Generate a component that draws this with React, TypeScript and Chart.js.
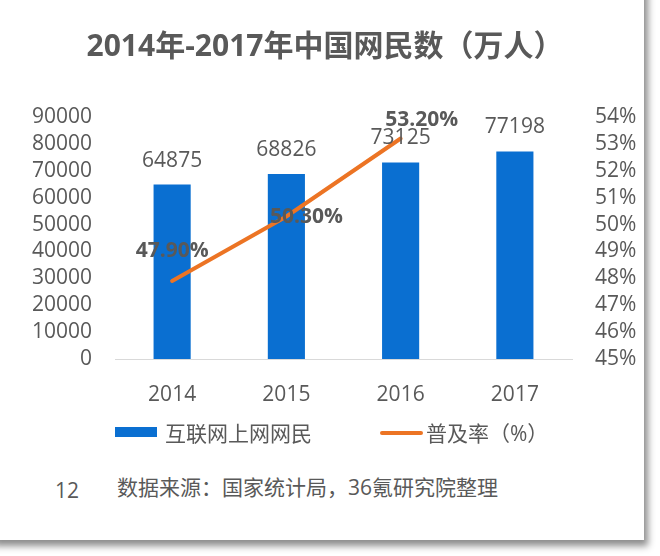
import React, { useEffect, useRef } from "react";
import { Chart, registerables } from "chart.js";

Chart.register(...registerables);

const FONT = "'Open Sans', 'Noto Sans CJK SC', sans-serif";
const TEXT = "#595959";

const TITLE = "2014年-2017年中国网民数（万人）";
const YEARS = ["2014", "2015", "2016", "2017"];
const USERS = [64875, 68826, 73125, 77198];
const RATE: (number | null)[] = [47.9, 50.3, 53.2, null];
const USERS_LABEL = "互联网上网网民";
const RATE_LABEL = "普及率（%）";
const LEFT_MIN = 0;
const LEFT_MAX = 90000;
const LEFT_STEP = 10000;
const RIGHT_MIN = 45;
const RIGHT_MAX = 54;
const RIGHT_STEP = 1;
const PAGE_NO = "12";
const SOURCE = "数据来源：国家统计局，36氪研究院整理";

const BAR_COLOR = "#0a6fd1";
const LINE_COLOR = "#ec7424";

// label offsets for the rate labels (as placed in the original)
const RATE_LABEL_OFFSET: [number, number][] = [
  [0, -30],
  [20, 1],
  [21, -18],
];

const labelPlugin = {
  id: "valueLabels",
  afterDatasetsDraw(chart: any) {
    const ctx = chart.ctx;
    ctx.save();
    ctx.fillStyle = TEXT;
    ctx.textAlign = "center";
    ctx.textBaseline = "middle";
    ctx.font = `21px ${FONT}`;
    const barMeta = chart.getDatasetMeta(0);
    barMeta.data.forEach((el: any, i: number) => {
      ctx.fillText(String(USERS[i]), el.x, el.y - 24);
    });
    ctx.font = `bold 21px ${FONT}`;
    const lineMeta = chart.getDatasetMeta(1);
    lineMeta.data.forEach((el: any, i: number) => {
      const v = RATE[i];
      if (v == null) return;
      const [dx, dy] = RATE_LABEL_OFFSET[i] || [0, -20];
      ctx.fillText(v.toFixed(2) + "%", el.x + dx, el.y + dy);
    });
    ctx.restore();
  },
};

export default function App() {
  const ref = useRef<HTMLCanvasElement | null>(null);

  useEffect(() => {
    if (!ref.current) return;
    Chart.defaults.font.family = FONT;
    const chart = new Chart(ref.current, {
      type: "bar",
      data: {
        labels: YEARS,
        datasets: [
          {
            type: "bar",
            label: USERS_LABEL,
            data: USERS,
            backgroundColor: BAR_COLOR,
            borderWidth: 0,
            barPercentage: 0.325,
            categoryPercentage: 1,
            yAxisID: "y",
            order: 2,
          } as any,
          {
            type: "line",
            label: RATE_LABEL,
            data: RATE,
            borderColor: LINE_COLOR,
            backgroundColor: LINE_COLOR,
            borderWidth: 4,
            borderCapStyle: "round",
            pointRadius: 0,
            tension: 0,
            yAxisID: "y1",
            order: 1,
          } as any,
        ],
      },
      options: {
        animation: false,
        responsive: true,
        maintainAspectRatio: false,
        layout: { padding: { left: 6, right: 0, top: 0, bottom: 0 } },
        plugins: {
          legend: { display: false },
          tooltip: { enabled: false },
          title: {
            display: true,
            text: TITLE,
            color: TEXT,
            font: { size: 30, weight: "bold", family: FONT, lineHeight: 1.2 },
            padding: { top: 29, bottom: 52 },
          },
        },
        scales: {
          x: {
            grid: { display: false },
            border: { display: true, color: "#d9d9d9", width: 1 },
            ticks: { color: TEXT, font: { size: 21 }, padding: 15 },
            afterFit: (s: any) => {
              s.height = 61;
            },
          },
          y: {
            position: "left",
            min: LEFT_MIN,
            max: LEFT_MAX,
            grid: { display: false },
            border: { display: false },
            ticks: {
              stepSize: LEFT_STEP,
              autoSkip: false,
              color: TEXT,
              font: { size: 21, lineHeight: 1 },
              padding: 15,
              callback: (v: any) => String(v),
            },
            afterFit: (s: any) => {
              s.width = 109;
            },
          },
          y1: {
            position: "right",
            min: RIGHT_MIN,
            max: RIGHT_MAX,
            grid: { display: false },
            border: { display: false },
            ticks: {
              stepSize: RIGHT_STEP,
              autoSkip: false,
              color: TEXT,
              font: { size: 21, lineHeight: 1 },
              padding: 15,
              callback: (v: any) => `${v}%`,
            },
            afterFit: (s: any) => {
              s.width = 72;
            },
          },
        },
      } as any,
      plugins: [labelPlugin],
    });
    return () => chart.destroy();
  }, []);

  const text = (extra: React.CSSProperties): React.CSSProperties => ({
    position: "absolute",
    fontFamily: FONT,
    color: TEXT,
    fontSize: 21,
    lineHeight: "24px",
    whiteSpace: "nowrap",
    ...extra,
  });

  return (
    <div
      style={{
        position: "fixed",
        left: 0,
        top: 0,
        width: 660,
        height: 556,
        background: "#fff",
        overflow: "hidden",
      }}
    >
      <div
        style={{
          position: "absolute",
          left: -10,
          top: -20,
          width: 654,
          height: 560,
          background: "#fff",
          boxShadow: "4px 6px 7px rgba(0,0,0,0.45)",
        }}
      />
      <div style={{ position: "absolute", left: 0, top: 0, width: 644, height: 420 }}>
        <canvas ref={ref} />
      </div>
      <div
        style={{
          position: "absolute",
          left: 115,
          top: 427,
          width: 42,
          height: 10,
          background: BAR_COLOR,
        }}
      />
      <div style={text({ left: 165, top: 421 })}>{USERS_LABEL}</div>
      <div
        style={{
          position: "absolute",
          left: 380,
          top: 431,
          width: 43,
          height: 4,
          borderRadius: 2,
          background: LINE_COLOR,
        }}
      />
      <div style={text({ left: 426, top: 421 })}>{RATE_LABEL}</div>
      <div style={text({ left: 55, top: 478 })}>{PAGE_NO}</div>
      <div style={text({ left: 117, top: 475 })}>{SOURCE}</div>
    </div>
  );
}
